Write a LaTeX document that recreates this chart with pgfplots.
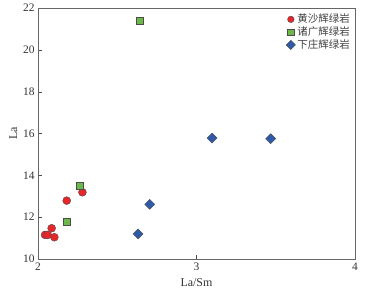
\documentclass[border=0pt]{standalone}
\usepackage{pgfplots}
\pgfplotsset{compat=1.18}
\usepackage{fontspec}
\setmainfont{Liberation Serif}
\newfontfamily\cjk{Noto Sans CJK SC}
\definecolor{cred}{HTML}{E8262A}
\definecolor{cgreen}{HTML}{6DB84A}
\definecolor{cblue}{HTML}{2E5AA8}
\begin{document}
\begin{tikzpicture}
\begin{axis}[
  scale only axis,
  width=317bp, height=251bp,
  xmin=2, xmax=4, ymin=10, ymax=22,
  xtick={2,3,4}, ytick={10,12,...,22},
  tick align=inside,
  xtick pos=bottom, ytick pos=left,
  axis line style={draw=black!60, line width=0.8pt},
  major tick length=4pt,
  tick style={black!70},
  /pgf/number format/assume math mode=true,
  tick label style={font=\fontsize{11.5}{13}\selectfont, text=black!80},
  xlabel={La/Sm}, ylabel={La},
  label style={font=\fontsize{12}{14}\selectfont, text=black!80},
  xlabel style={yshift=-2pt},
  ylabel style={yshift=-1pt},
  clip=false,
  legend style={draw=none, fill=none, at={(1,1)}, anchor=north east, font=\cjk\fontsize{10.5}{12}\selectfont, text=black!75, row sep=-1.5pt, inner sep=1pt, xshift=-2pt, yshift=-3pt},
  legend cell align=left,
  legend image post style={mark size=3.3pt},
]
\path (rel axis cs:-0.12,-0.135) (rel axis cs:1.038,1.032);
\addplot[only marks, mark=*, mark size=4pt, mark options={fill=cred, draw=black!70, line width=0.4pt}] coordinates {
(2.044,11.15) (2.061,11.15) (2.086,11.47) (2.103,11.04) (2.181,12.79) (2.280,13.19)
};
\addlegendentry{黄沙辉绿岩}
\addplot[only marks, mark=square*, mark size=3.6pt, mark options={fill=cgreen, draw=black!70, line width=0.4pt}] coordinates {
(2.265,13.50) (2.181,11.78) (2.644,21.38)
};
\addlegendentry{诸广辉绿岩}
\addplot[only marks, mark=square*, mark size=3.6pt, mark options={fill=cblue, draw=black!70, line width=0.4pt, rotate=45}] coordinates {
(2.631,11.20) (2.705,12.61) (3.098,15.78) (3.468,15.75)
};
\addlegendentry{下庄辉绿岩}
\end{axis}
\end{tikzpicture}
\end{document}
